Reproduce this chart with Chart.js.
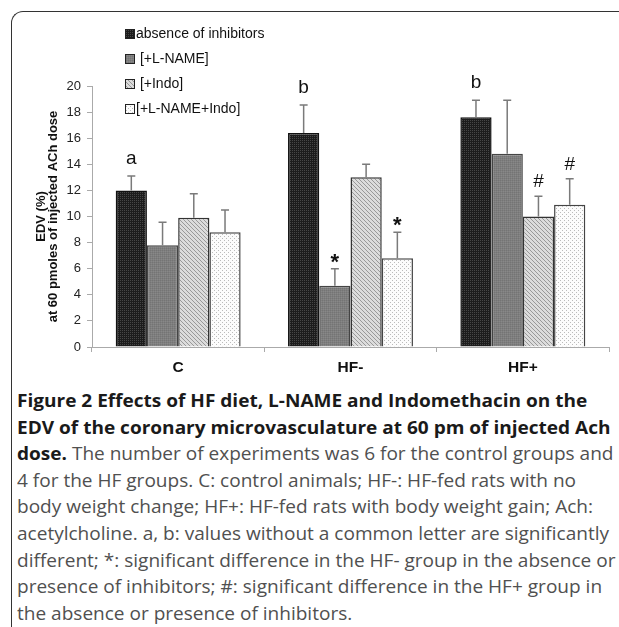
<!DOCTYPE html>
<html>
<head>
<meta charset="utf-8">
<script src="https://cdn.jsdelivr.net/npm/chart.js@4.4.1/dist/chart.umd.min.js"></script>
<style>
  html, body { margin: 0; padding: 0; background: #fff; }
  body { width: 619px; height: 627px; position: relative; overflow: hidden; }
  #frame {
    position: absolute; left: 11px; top: 11px; width: 700px; height: 700px;
    border-top: 1.5px solid #333; border-left: 1.5px solid #333;
    border-top-left-radius: 12px;
  }
  #chart { position: absolute; left: 0; top: 0; }
  #caption {
    position: absolute; left: 17px; top: 387px;
    font-family: "Open Sans", "Noto Sans", sans-serif;
    font-size: 17.5px; line-height: 26.6px; color: #505050;
    white-space: pre; transform-origin: 0 0;
  }
  #caption b { color: #1a1a1a; font-weight: 700; }
  #caption span { display: inline-block; }
</style>
</head>
<body>
<div id="frame"></div>
<canvas id="chart" width="619" height="380"></canvas>
<div id="caption"><div><span><b>Figure 2 Effects of HF diet, L-NAME and Indomethacin on the</b></span></div><div><span><b>EDV of the coronary microvasculature at 60 pm of injected Ach</b></span></div><div><span id="refLine"><b>dose.</b> The number of experiments was 6 for the control groups and</span></div><div><span>4 for the HF groups. C: control animals; HF-: HF-fed rats with no</span></div><div><span>body weight change; HF+: HF-fed rats with body weight gain; Ach:</span></div><div><span>acetylcholine. a, b: values without a common letter are significantly</span></div><div><span>different; *: significant difference in the HF- group in the absence or</span></div><div><span>presence of inhibitors; #: significant difference in the HF+ group in</span></div><div><span>the absence or presence of inhibitors.</span></div></div>
<script>
// Data
const groups = ["C", "HF-", "HF+"];
const seriesNames = ["absence of inhibitors", " [+L-NAME]", " [+Indo]", "[+L-NAME+Indo]"];

const absenceMean = [12.0, 16.4, 17.6];
const absenceErr = [1.1, 2.15, 1.3];
const lnameMean = [7.8, 4.7, 14.8];
const lnameErr = [1.75, 1.3, 4.1];
const indoMean = [9.9, 13.0, 10.0];
const indoErr = [1.85, 1.0, 1.55];
const bothMean = [8.8, 6.8, 10.9];
const bothErr = [1.7, 2.0, 2.0];

// significance marks above each bar
const absenceMarks = ["a", "b", "b"];
const lnameMarks = ["", "*", ""];
const indoMarks = ["", "", "#"];
const bothMarks = ["", "*", "#"];

const yMin = 0;
const yMax = 20;
const yStep = 2;
const yTitle = ["EDV (%)", "at 60 pmoles of injected ACh dose"];

const FONT = "'Liberation Sans', Arial, sans-serif";

const canvas = document.getElementById("chart");
const ctx = canvas.getContext("2d");

// Small tiles to imitate the print fill patterns
function makePattern(size, base, pixels) {
  const c = document.createElement("canvas");
  c.width = size;
  c.height = size;
  const g = c.getContext("2d");
  g.fillStyle = base;
  g.fillRect(0, 0, size, size);
  pixels.forEach(([x, y, col]) => {
    g.fillStyle = col;
    g.fillRect(x, y, 1, 1);
  });
  return ctx.createPattern(c, "repeat");
}

const darkFill = makePattern(4, "#1c1c1c", [[0, 0, "#464646"], [2, 0, "#464646"], [0, 2, "#464646"], [2, 2, "#464646"]]);
const grayFill = makePattern(2, "#7e7e7e", [[0, 0, "#747474"], [1, 1, "#888888"]]);
const hatchFill = makePattern(4, "#dcdcdc", [[0, 0, "#999999"], [1, 1, "#999999"], [2, 2, "#999999"], [3, 3, "#999999"]]);
const dotFill = makePattern(4, "#fcfcfc", [[0, 0, "#bbbbbb"], [2, 2, "#bbbbbb"]]);

// gap (px) between the top of the error bar and the mark baseline
const markGap = { "a": 12, "b": 12, "*": 0, "#": 9 };
const markFont = { "a": "19px " + FONT, "b": "19px " + FONT, "*": "bold 22px " + FONT, "#": "19px " + FONT };

// Error bars, significance marks and the legend
const extrasPlugin = {
  id: "extras",
  afterDatasetsDraw(chart) {
    const c = chart.ctx;
    const yScale = chart.scales.y;
    chart.data.datasets.forEach((ds, i) => {
      const meta = chart.getDatasetMeta(i);
      meta.data.forEach((bar, j) => {
        const top = yScale.getPixelForValue(ds.data[j] + ds.errors[j]);
        c.save();
        c.strokeStyle = "#7a7a7a";
        c.lineWidth = 1.5;
        c.beginPath();
        c.moveTo(bar.x, bar.y);
        c.lineTo(bar.x, top);
        c.moveTo(bar.x - 4, top);
        c.lineTo(bar.x + 4, top);
        c.stroke();

        const m = ds.marks[j];
        if (m) {
          c.fillStyle = "#111";
          c.font = markFont[m];
          c.textAlign = "center";
          c.textBaseline = "alphabetic";
          c.fillText(m, bar.x, top - markGap[m]);
        }
        c.restore();
      });
    });
  },
  afterDraw(chart) {
    const c = chart.ctx;
    c.save();
    chart.data.datasets.forEach((ds, i) => {
      const yc = 34 + i * 25;
      c.fillStyle = ds.backgroundColor;
      c.fillRect(125.5, yc - 4.5, 9, 9);
      c.strokeStyle = "#222";
      c.lineWidth = 1;
      c.strokeRect(125.5, yc - 4.5, 9, 9);
      c.fillStyle = "#111";
      c.font = "14px " + FONT;
      c.textAlign = "left";
      c.textBaseline = "middle";
      c.fillText(ds.label, 136, yc);
    });
    c.restore();
  },
};

function barSet(label, data, errors, marks, fill, border) {
  return {
    label: label,
    data: data,
    errors: errors,
    marks: marks,
    backgroundColor: fill,
    borderColor: border,
    borderWidth: 1.5,
    barPercentage: 1,
    categoryPercentage: 0.725,
  };
}

new Chart(ctx, {
  type: "bar",
  data: {
    labels: groups,
    datasets: [
      barSet(seriesNames[0], absenceMean, absenceErr, absenceMarks, darkFill, "#111"),
      barSet(seriesNames[1], lnameMean, lnameErr, lnameMarks, grayFill, "#444"),
      barSet(seriesNames[2], indoMean, indoErr, indoMarks, hatchFill, "#333"),
      barSet(seriesNames[3], bothMean, bothErr, bothMarks, dotFill, "#444"),
    ],
  },
  options: {
    responsive: false,
    animation: false,
    devicePixelRatio: 1,
    layout: { padding: { top: 86, right: 10, left: 0, bottom: 0 } },
    plugins: {
      legend: { display: false },
      tooltip: { enabled: false },
    },
    scales: {
      x: {
        afterFit: (scale) => { scale.height = 33; },
        border: { display: true, color: "#aaa", width: 1 },
        grid: { offset: true, drawOnChartArea: false, drawTicks: true, tickLength: 5, color: "#aaa" },
        ticks: { color: "#111", padding: 6, font: { family: FONT, size: 15.5, weight: "bold" } },
      },
      y: {
        min: yMin,
        max: yMax,
        afterFit: (scale) => { scale.width = 92; },
        border: { display: true, color: "#aaa", width: 1 },
        grid: { drawOnChartArea: false, drawTicks: true, tickLength: 5, color: "#aaa" },
        ticks: { stepSize: yStep, color: "#222", padding: 6, font: { family: FONT, size: 13 } },
        title: {
          display: true,
          text: yTitle,
          color: "#111",
          padding: { top: 36, bottom: 0 },
          font: { family: FONT, size: 13, weight: "bold", lineHeight: 0.88 },
        },
      },
    },
  },
  plugins: [extrasPlugin],
});

// squeeze caption so the full lines span the same width as the original
const cap = document.getElementById("caption");
const ref = document.getElementById("refLine");
const k = 596 / ref.offsetWidth;
cap.style.transform = "scaleX(" + k + ")";
</script>
</body>
</html>
